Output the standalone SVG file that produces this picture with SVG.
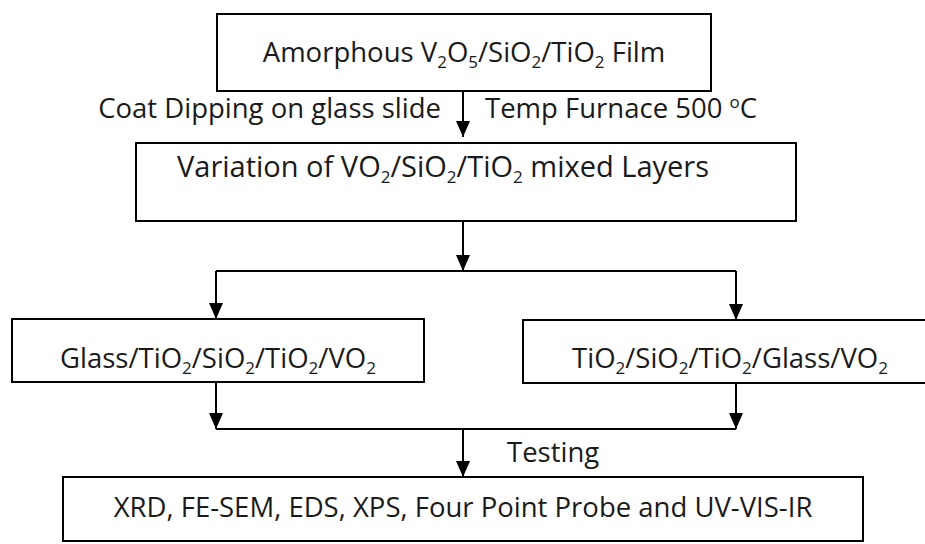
<svg xmlns="http://www.w3.org/2000/svg" width="925" height="544" viewBox="0 0 925 544">
<style>
.box{fill:#fff;stroke:#000;stroke-width:2}
.t{font-family:"Open Sans","Noto Sans","DejaVu Sans",sans-serif;font-size:27.5px;fill:#1a1a1a}
.m{text-anchor:middle}
.e{text-anchor:end}
.sub{font-size:17px;baseline-shift:-6px}
.sup{font-size:17px;baseline-shift:10px}
.c{stroke:#000;stroke-width:2;fill:none}
</style>
<defs>
<marker id="ah" markerUnits="userSpaceOnUse" markerWidth="16" markerHeight="14" refX="16" refY="7" orient="auto">
<path d="M0,0 L16,7 L0,14 z" fill="#000"/>
</marker>
</defs>
<rect width="925" height="544" fill="#fff"/>
<g id="connectors">
<line class="c" x1="463" y1="91" x2="463" y2="137" marker-end="url(#ah)"/>
<line class="c" x1="463" y1="221" x2="463" y2="271" marker-end="url(#ah)"/>
<line class="c" x1="216" y1="271" x2="736" y2="271"/>
<line class="c" x1="216" y1="271" x2="216" y2="319" marker-end="url(#ah)"/>
<line class="c" x1="736" y1="271" x2="736" y2="320" marker-end="url(#ah)"/>
<line class="c" x1="216" y1="382" x2="216" y2="429" marker-end="url(#ah)"/>
<line class="c" x1="736" y1="383" x2="736" y2="429" marker-end="url(#ah)"/>
<line class="c" x1="216" y1="429" x2="736" y2="429"/>
<line class="c" x1="463" y1="429" x2="463" y2="477" marker-end="url(#ah)"/>
</g>
<g id="label-coat"><text class="t e" x="441" y="118">Coat Dipping on glass slide</text></g>
<g id="label-temp"><text class="t" x="485" y="118">Temp Furnace 500 <tspan class="sup">o</tspan>C</text></g>
<g id="label-testing"><text class="t" x="507" y="462">Testing</text></g>
<g id="n1">
<rect class="box" x="217" y="14" width="494" height="77"/>
<text class="t m" x="464" y="62">Amorphous V<tspan class="sub">2</tspan>O<tspan class="sub">5</tspan>/SiO<tspan class="sub">2</tspan>/TiO<tspan class="sub">2</tspan> Film</text>
</g>
<g id="n2">
<rect class="box" x="136" y="143" width="660" height="78"/>
<text class="t" x="177" y="177" style="font-size:29px">Variation of VO<tspan class="sub">2</tspan>/SiO<tspan class="sub">2</tspan>/TiO<tspan class="sub">2</tspan> mixed Layers</text>
</g>
<g id="n3">
<rect class="box" x="12" y="319" width="412" height="63"/>
<text class="t m" x="218" y="368">Glass/TiO<tspan class="sub">2</tspan>/SiO<tspan class="sub">2</tspan>/TiO<tspan class="sub">2</tspan>/VO<tspan class="sub">2</tspan></text>
</g>
<g id="n4">
<rect class="box" x="523" y="320" width="416" height="63"/>
<text class="t m" x="730" y="368">TiO<tspan class="sub">2</tspan>/SiO<tspan class="sub">2</tspan>/TiO<tspan class="sub">2</tspan>/Glass/VO<tspan class="sub">2</tspan></text>
</g>
<g id="n5">
<rect class="box" x="63" y="477" width="800" height="64"/>
<text class="t m" x="463" y="517">XRD, FE-SEM, EDS, XPS, Four Point Probe and UV-VIS-IR</text>
</g>
</svg>
